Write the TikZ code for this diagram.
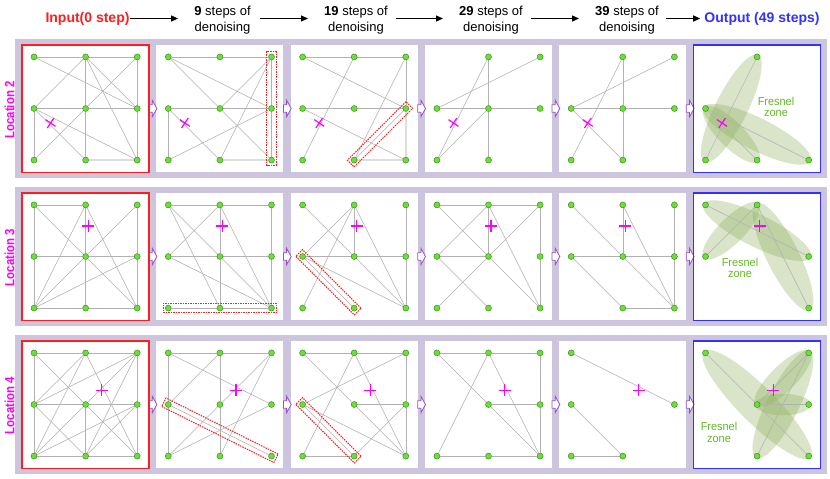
\documentclass[tikz,border=0pt]{standalone}
\usepackage{fontspec}
\setmainfont{Liberation Sans}
\newfontfamily\nsf[FakeStretch=0.85]{Liberation Sans}
\newfontfamily\fsf[FakeStretch=0.95]{Liberation Sans}
\usetikzlibrary{arrows.meta,shapes.geometric,calc}
\definecolor{band}{RGB}{205,196,221}
\definecolor{gfill}{RGB}{110,220,60}
\definecolor{gdraw}{RGB}{50,140,20}
\definecolor{edgec}{RGB}{178,178,178}
\definecolor{mag}{RGB}{255,0,255}
\definecolor{hred}{RGB}{255,30,30}
\definecolor{hblue}{RGB}{50,50,255}
\definecolor{arrp}{RGB}{150,80,200}
\definecolor{fzc}{RGB}{140,175,90}
\definecolor{fztext}{RGB}{100,185,40}
\pgfdeclarelayer{bg}
\pgfdeclarelayer{mid}
\pgfsetlayers{bg,mid,main}
\def\gs{51.6}
\def\XA{85.6}\def\XB{219.9}\def\XC{354.2}\def\XD{488.5}\def\XE{622.8}\def\XF{757.1}
\def\YA{108.5}\def\YB{256.5}\def\YC{404.5}
\newcommand\mkgrid[3]{%
  \foreach \nn/\gi/\gj in {a/-1/-1,b/0/-1,c/1/-1,d/-1/0,e/0/0,f/1/0,g/-1/1,h/0/1,i/1/1}
    {\coordinate (#1-\nn) at ({#2+\gi*\gs},{#3+\gj*\gs});}%
}
\newcommand\panelbg[2]{%
  \begin{pgfonlayer}{bg}\fill[white] ({#1-63.5},{#2-63.8}) rectangle ({#1+63.5},{#2+63.8});\end{pgfonlayer}}
\newcommand\mknodes[2]{\foreach \nn in {#2}{\node[gn] (#1\nn) at (#1-\nn) {};}}
\newcommand\mkedges[2]{\begin{pgfonlayer}{mid}\foreach \ea/\eb in {#2}{\draw[gedge] (#1\ea) -- (#1\eb);}\end{pgfonlayer}}
\newcommand\mktedges[2]{\begin{pgfonlayer}{mid}\foreach \ea/\eb in {#2}{\draw[tedge] (#1\ea) -- (#1\eb);}\end{pgfonlayer}}
\newcommand\hl[4]{\begin{pgfonlayer}{mid}
  \path let \p1=(#2#3.center), \p2=(#2#4.center), \n1={veclen(\x2-\x1,\y2-\y1)+10} in
    (\p1) -- (\p2) node[hlbox,midway,sloped,minimum width=\n1] (#1) {};
  \end{pgfonlayer}}
\newcommand\fz[4]{\begin{pgfonlayer}{mid}
  \path let \p1=(#2#3.center), \p2=(#2#4.center), \n1={veclen(\x2-\x1,\y2-\y1)},
    \n2={1.5*sqrt(\n1)}, \n3={veclen(\n1,2*\n2)}, \n4={2*\n2} in
    (\p1) -- (\p2) node[fzbox,midway,sloped,minimum width=\n3,minimum height=\n4] (#1) {};
  \end{pgfonlayer}}
\newcommand\crs[3]{\draw[crs,shift={(#1,#2)},rotate=#3] (-6,0) -- (6,0) (0,-6) -- (0,6);}
\newcommand\parr[2]{\draw[parrow] (#1,{#2-3.8}) -- ({#1+3.2},{#2-3.8}) -- ({#1+3.2},{#2-8.2}) -- ({#1+7.8},#2) -- ({#1+3.2},{#2+8.2}) -- ({#1+3.2},{#2+3.8}) -- (#1,{#2+3.8}) -- cycle;}
\newcommand\arrows[1]{\parr{149.1}{#1}\parr{283.4}{#1}\parr{417.7}{#1}\parr{552.0}{#1}\parr{686.3}{#1}}
\begin{document}
\begin{tikzpicture}[x=1pt,y=-1pt,
  gn/.style={circle,fill=gfill,draw=gdraw,line width=0.45pt,minimum size=6pt,inner sep=0pt},
  gedge/.style={draw=edgec,line width=0.55pt},
  tedge/.style={draw=black!13,line width=1.7pt},
  hlbox/.style={rectangle,draw=hred,line width=1pt,dash pattern=on 1.5pt off 1pt,minimum height=9.5pt,inner sep=0pt,outer sep=0pt},
  fzbox/.style={ellipse,fill=fzc,fill opacity=0.33,inner sep=0pt,outer sep=0pt},
  crs/.style={draw=mag,line width=1.2pt},
  parrow/.style={draw=arrp,fill=white,line width=0.8pt,line join=miter},
  harr/.style={draw=black,line width=1.1pt,-{Triangle[length=7pt,width=6pt]}},
  hbold/.style={font=\bfseries\fontsize{14}{16}\selectfont,inner sep=0pt},
  hstep/.style={font=\fontsize{13}{16}\selectfont,align=center,inner sep=0pt},
  loc/.style={rotate=90,text=mag,font=\nsf\bfseries\fontsize{13.5}{16}\selectfont,inner sep=0pt},
  fzt/.style={align=center,text=fztext,font=\fsf\fontsize{11.5}{11.3}\selectfont,inner sep=0pt}]
\useasboundingbox (0,0) rectangle (830,479);
\begin{pgfonlayer}{bg}
\fill[white] (0,0) rectangle (830,479);
\fill[band] (15,39) rectangle (827,178);
\fill[band] (15,187) rectangle (827,326);
\fill[band] (15,335) rectangle (827,474);
\end{pgfonlayer}
% header
\node[hbold,text=hred] (hin) at (87.5,18.5) {Input(0 step)};
\node[hstep] (h9) at (222.5,20) {\textbf{9} steps of\\denoising};
\node[hstep] (h19) at (356,20) {\textbf{19} steps of\\denoising};
\node[hstep] (h29) at (491,20) {\textbf{29} steps of\\denoising};
\node[hstep] (h39) at (627,20) {\textbf{39} steps of\\denoising};
\node[hbold,text=hblue] (hout) at (762,18.5) {Output (49 steps)};
\draw[harr,shorten >=16pt] (hin.east) -- (h9.west |- hin.east);
\draw[harr,shorten <=9pt,shorten >=16pt] (h9.east |- hin.east) -- (h19.west |- hin.east);
\draw[harr,shorten <=8pt,shorten >=16pt] (h19.east |- hin.east) -- (h29.west |- hin.east);
\draw[harr,shorten <=8pt,shorten >=16pt] (h29.east |- hin.east) -- (h39.west |- hin.east);
\draw[harr,shorten <=7pt,shorten >=4pt] (h39.east |- hin.east) -- (hout.west |- hin.east);
% row labels
\node[loc] (loc2) at (9.5,110) {Location 2};
\node[loc] (loc3) at (9.5,257.5) {Location 3};
\node[loc] (loc4) at (9.5,405.5) {Location 4};
% ================= Row 1 =================
\mkgrid{r1p1}{\XA}{\YA}\panelbg{\XA}{\YA}
\mknodes{r1p1}{a,b,c,d,e,f,g,h,i}
\mkedges{r1p1}{a/b,b/c,a/f,b/d,b/e,e/h,b/f,b/i,c/e,e/g,c/f,f/i,d/e,e/f,d/g,d/h,d/i}
\mktedges{r1p1}{h/i}
\mkgrid{r1p2}{\XB}{\YA}\panelbg{\XB}{\YA}
\mknodes{r1p2}{a,b,c,d,e,f,g,h,i}
\mkedges{r1p2}{a/b,b/c,a/e,a/f,c/e,c/h,e/i,g/f,d/e,e/f,d/g,d/h,c/f,f/i}
\mktedges{r1p2}{h/i}
\hl{hl1}{r1p2}{c}{i}
\mkgrid{r1p3}{\XC}{\YA}\panelbg{\XC}{\YA}
\mknodes{r1p3}{a,b,c,d,e,f,g,h,i}
\mkedges{r1p3}{a/b,b/c,a/f,b/g,c/h,c/f,d/e,e/f,d/i,f/h}
\mktedges{r1p3}{h/i,f/i}
\hl{hl2}{r1p3}{f}{h}
\mkgrid{r1p4}{\XD}{\YA}\panelbg{\XD}{\YA}
\mknodes{r1p4}{b,c,d,e,f,g,h}
\mkedges{r1p4}{b/e,e/h,b/g,c/d,d/e,e/f,e/g}
\mkgrid{r1p5}{\XE}{\YA}\panelbg{\XE}{\YA}
\mknodes{r1p5}{b,c,d,e,f,g,h}
\mkedges{r1p5}{b/e,e/h,b/g,c/d,d/e,e/f,d/h}
\mkgrid{r1p6}{\XF}{\YA}\panelbg{\XF}{\YA}
\mknodes{r1p6}{b,d,g,h,i}
\fz{fz11}{r1p6}{b}{g}\fz{fz12}{r1p6}{d}{h}\fz{fz13}{r1p6}{d}{i}
\mkedges{r1p6}{b/g,d/h,d/i}
\node[fzt] (fzt1) at (776,107) {Fresnel\\zone};
\foreach \cx in {\XA,\XB,\XC,\XD,\XE,\XF}{\crs{\cx-35}{\YA+14.5}{-34}}
\arrows{\YA}
% ================= Row 2 =================
\mkgrid{r2p1}{\XA}{\YB}\panelbg{\XA}{\YB}
\mknodes{r2p1}{a,b,c,d,e,f,g,h,i}
\mkedges{r2p1}{a/b,a/d,d/g,a/e,e/i,b/g,b/e,e/h,b/i,c/e,e/g,c/f,f/i,d/e,e/f,g/f,g/h,h/i}
\mkgrid{r2p2}{\XB}{\YB}\panelbg{\XB}{\YB}
\mknodes{r2p2}{a,b,c,d,e,f,g,h,i}
\mkedges{r2p2}{a/b,b/c,a/h,a/e,e/i,b/d,b/e,e/h,b/i,c/f,f/i,d/e,e/f,d/i,g/h,h/i}
\hl{hl3}{r2p2}{g}{i}
\mkgrid{r2p3}{\XC}{\YB}\panelbg{\XC}{\YB}
\mknodes{r2p3}{a,b,c,d,e,f,g,h,i}
\mkedges{r2p3}{a/e,e/i,b/d,b/e,b/g,b/i,c/f,f/i,d/e,e/f,d/h,d/i}
\hl{hl4}{r2p3}{d}{h}
\mkgrid{r2p4}{\XD}{\YB}\panelbg{\XD}{\YB}
\mknodes{r2p4}{a,b,c,d,e,f,g,h,i}
\mkedges{r2p4}{a/b,b/c,a/e,e/i,b/d,b/e,b/i,c/e,e/g,c/f,f/i,d/e,d/h}
\mkgrid{r2p5}{\XE}{\YB}\panelbg{\XE}{\YB}
\mknodes{r2p5}{a,b,c,d,e,f,h,i}
\mkedges{r2p5}{a/e,e/i,b/e,b/i,c/f,f/i,d/e,e/f,d/h,h/i}
\mkgrid{r2p6}{\XF}{\YB}\panelbg{\XF}{\YB}
\mknodes{r2p6}{a,b,d,f,i}
\fz{fz21}{r2p6}{a}{f}\fz{fz22}{r2p6}{b}{d}\fz{fz23}{r2p6}{b}{i}
\mkedges{r2p6}{a/f,b/d,b/i}
\node[fzt] (fzt2) at (740,268) {Fresnel\\zone};
\foreach \cx in {\XA,\XB,\XC,\XD,\XE,\XF}{\crs{\cx+2.5}{\YB-30.5}{0}}
\arrows{\YB}
% ================= Row 3 =================
\mkgrid{r3p1}{\XA}{\YC}\panelbg{\XA}{\YC}
\mknodes{r3p1}{a,b,c,d,e,f,g,h,i}
\mkedges{r3p1}{a/b,b/c,a/d,d/g,a/e,e/i,b/d,b/g,b/i,c/d,c/e,e/g,c/h,c/f,f/i,d/e,e/f,d/h,e/h,f/h,g/f,g/h,h/i}
\mkgrid{r3p2}{\XB}{\YC}\panelbg{\XB}{\YC}
\mknodes{r3p2}{a,b,c,d,e,f,g,h,i}
\mkedges{r3p2}{a/b,b/c,a/d,d/g,a/f,b/d,b/e,e/h,c/e,e/g,c/h,d/i,g/f}
\hl{hl5}{r3p2}{d}{i}
\mkgrid{r3p3}{\XC}{\YC}\panelbg{\XC}{\YC}
\mknodes{r3p3}{a,b,c,d,e,f,g,h,i}
\mkedges{r3p3}{a/b,b/c,a/e,e/i,b/g,b/i,c/d,c/f,f/i,e/f,d/h,d/i,g/h,h/f}
\hl{hl6}{r3p3}{d}{h}
\mkgrid{r3p4}{\XD}{\YC}\panelbg{\XD}{\YC}
\mknodes{r3p4}{a,b,c,e,f,g,h,i}
\mkedges{r3p4}{a/b,b/c,a/e,e/i,b/g,b/i,c/f,f/i,e/f,g/h,h/i}
\mkgrid{r3p5}{\XE}{\YC}\panelbg{\XE}{\YC}
\mknodes{r3p5}{a,d,f,g,h}
\mkedges{r3p5}{a/f,d/h,g/h}
\mkgrid{r3p6}{\XF}{\YC}\panelbg{\XF}{\YC}
\mknodes{r3p6}{a,c,e,f,h,i}
\fz{fz31}{r3p6}{a}{i}\fz{fz32}{r3p6}{c}{e}\fz{fz33}{r3p6}{c}{h}\fz{fz34}{r3p6}{e}{f}
\mkedges{r3p6}{a/e,e/i,c/e,c/h,e/f}
\node[fzt] (fzt3) at (719,432.5) {Fresnel\\zone};
\foreach \cx in {\XA,\XB,\XC,\XD,\XE,\XF}{\crs{\cx+16}{\YC-14.2}{0}}
\arrows{\YC}
% panel borders
\foreach \cy in {\YA,\YB,\YC}{
  \draw[hred,line width=1.6pt] ({\XA-63.5},{\cy-63.8}) rectangle ({\XA+63.5},{\cy+63.8});
  \draw[hblue,line width=1.6pt] ({\XF-63.5},{\cy-63.8}) rectangle ({\XF+63.5},{\cy+63.8});
}
\end{tikzpicture}
\end{document}
